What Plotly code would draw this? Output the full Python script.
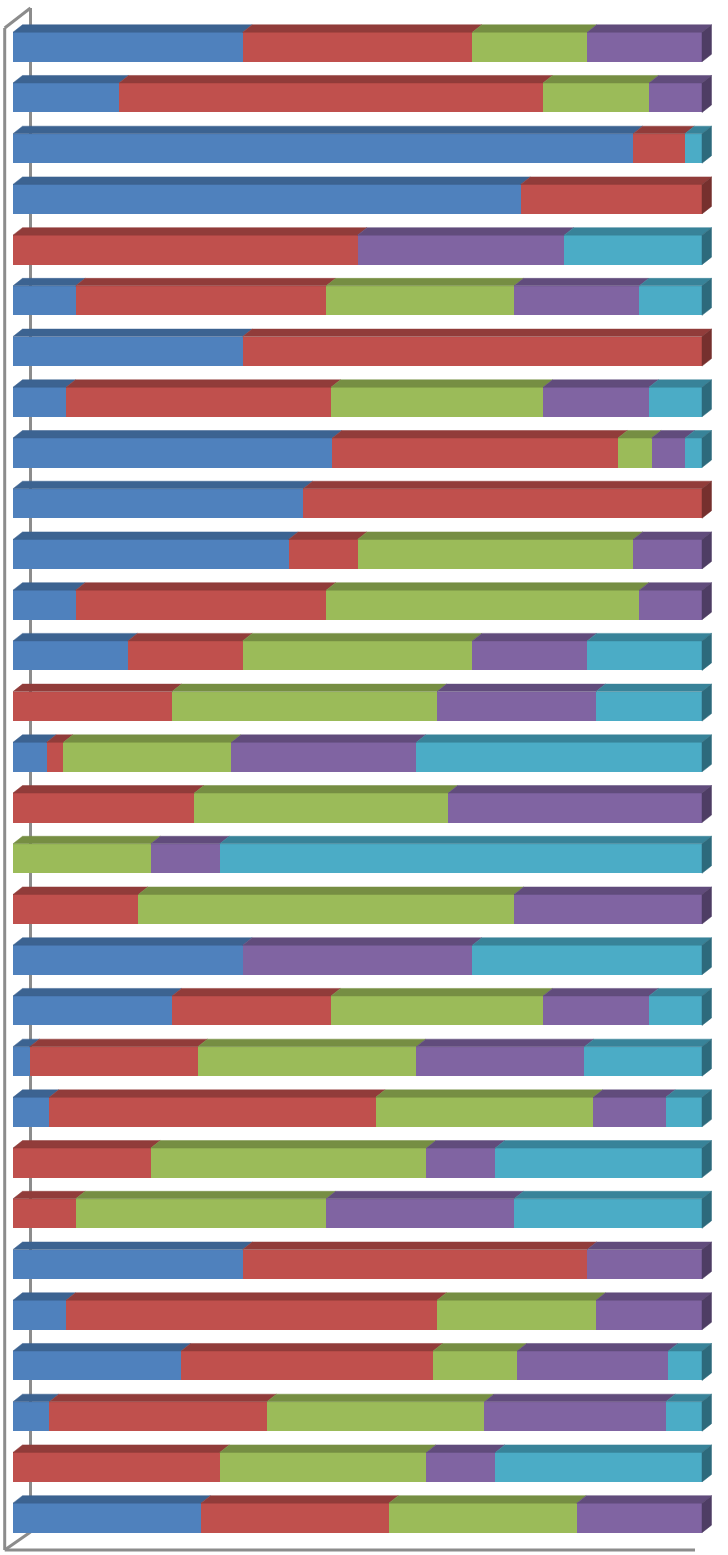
import numpy as np
import plotly.graph_objects as go

# ---- data (counts per category, shown as 100% stacked) ----
categories = [f"Item {i}" for i in range(1, 31)]
series_names = ["Series 1", "Series 2", "Series 3", "Series 4", "Series 5"]
blue   = [2, 2, 36, 14, 0, 1, 1, 1, 19, 8, 4, 1, 1, 0, 2, 0, 0, 0, 1, 3, 1, 1, 0, 0, 2, 1, 10, 1, 0, 3]
red    = [2, 8, 3, 5, 5, 4, 2, 5, 17, 11, 1, 4, 1, 3, 1, 5, 0, 2, 0, 3, 10, 9, 2, 1, 3, 7, 15, 6, 3, 3]
green  = [1, 2, 0, 0, 0, 3, 0, 4, 2, 0, 4, 5, 2, 5, 10, 7, 2, 6, 0, 4, 13, 6, 4, 4, 0, 3, 5, 6, 3, 3]
purple = [1, 1, 0, 0, 3, 2, 0, 2, 2, 0, 1, 1, 1, 3, 11, 7, 1, 3, 1, 2, 10, 2, 1, 3, 1, 2, 9, 5, 1, 2]
cyan   = [0, 0, 1, 0, 2, 1, 0, 1, 1, 0, 0, 0, 1, 2, 17, 0, 7, 0, 1, 1, 7, 1, 3, 3, 0, 0, 2, 1, 3, 0]

front_colors = ["#4F81BD", "#C0504D", "#9BBB59", "#8064A2", "#4BACC6"]
top_colors   = ["#3C6391", "#913C3A", "#768E43", "#614C7C", "#388399"]
side_colors  = ["#2F4E72", "#76302E", "#5F7236", "#4E3D64", "#2D6A7C"]

series = [blue, red, green, purple, cyan]

# ---- geometry in axis units ----
W, H = 728, 1555
px_x0, px_x100 = 13.0, 702.0
ux = (px_x100 - px_x0) / 100.0
py_first, pitch = 47.0, 50.72
bar_w = 29.5 / pitch
h = bar_w / 2
dx = 9.5 / ux
dy = 7.5 / pitch

ypos = np.arange(len(categories), dtype=float)
data = np.array(series, dtype=float)          # (5, 30)
pct = data / data.sum(axis=0) * 100.0
cum = np.vstack([np.zeros(len(categories)), np.cumsum(pct, axis=0)])

fig = go.Figure()

# front faces
for k, (name, vals) in enumerate(zip(series_names, series)):
    fig.add_trace(go.Bar(
        y=ypos, x=vals, orientation="h", name=name,
        marker=dict(color=front_colors[k], line=dict(width=0)),
        width=bar_w, hovertext=categories, showlegend=False))

# top faces
for k in range(5):
    xs, ys = [], []
    for j in range(len(categories)):
        x0, x1 = cum[k, j], cum[k + 1, j]
        if x1 - x0 <= 1e-9:
            continue
        yt = ypos[j] - h
        xs += [x0, x1, x1 + dx, x0 + dx, x0, None]
        ys += [yt, yt, yt - dy, yt - dy, yt, None]
    fig.add_trace(go.Scatter(x=xs, y=ys, mode="lines", fill="toself",
                             fillcolor=top_colors[k],
                             line=dict(color=top_colors[k], width=0.5),
                             hoverinfo="skip", showlegend=False))

# right end side faces (last non-zero segment)
for k in range(5):
    xs, ys = [], []
    for j in range(len(categories)):
        nz = [i for i in range(5) if pct[i, j] > 0]
        if nz[-1] != k:
            continue
        yt, yb = ypos[j] - h, ypos[j] + h
        xe = cum[5, j]
        xs += [xe, xe + dx, xe + dx, xe, xe, None]
        ys += [yt, yt - dy, yb - dy, yb, yt, None]
    if xs:
        fig.add_trace(go.Scatter(x=xs, y=ys, mode="lines", fill="toself",
                                 fillcolor=side_colors[k],
                                 line=dict(color=side_colors[k], width=0.5),
                                 hoverinfo="skip", showlegend=False))

# 3D frame (walls / floor edges), behind the bars
def ux_(px):
    return (px - px_x0) / ux

def uy_(py):
    return (py - py_first) / pitch

frame_col = "#8C8C8C"
frame_lines = [
    (4.7, 28, 4.7, 1550),     # outer left edge
    (4.7, 28, 30.5, 8),       # top diagonal
    (30.5, 8, 30.5, 1532),    # back wall edge
    (4.7, 1550, 30.5, 1532),  # bottom diagonal
    (4.7, 1550, 695, 1550),   # floor front edge
]
for (ax0, ay0, ax1, ay1) in frame_lines:
    fig.add_shape(type="line", xref="x", yref="y", layer="below",
                  x0=ux_(ax0), y0=uy_(ay0), x1=ux_(ax1), y1=uy_(ay1),
                  line=dict(color=frame_col, width=3))

fig.update_layout(
    width=W, height=H,
    margin=dict(l=0, r=0, t=0, b=0),
    paper_bgcolor="white", plot_bgcolor="white",
    barmode="stack", barnorm="percent",
    showlegend=False,
    xaxis=dict(range=[ux_(0), ux_(W)], visible=False, showgrid=False,
               zeroline=False, fixedrange=True),
    yaxis=dict(range=[uy_(H), uy_(0)], visible=False, showgrid=False,
               zeroline=False, fixedrange=True),
)

fig.write_html("out.html")
